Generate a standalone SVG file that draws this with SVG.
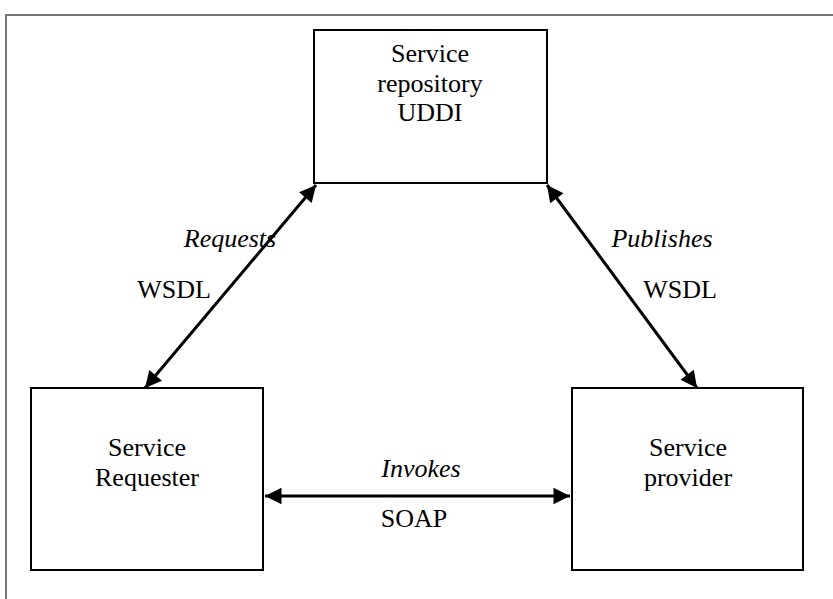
<svg xmlns="http://www.w3.org/2000/svg" width="833" height="599" viewBox="0 0 833 599">
  <style>
    .frame { fill: none; stroke: #777; stroke-width: 2; }
    .box { fill: #fff; stroke: #000; stroke-width: 2; }
    .label { font-family: "Liberation Serif", "Times New Roman", serif; font-size: 26px; fill: #000; text-anchor: middle; }
    .it { font-style: italic; }
    .conn { stroke: #000; stroke-width: 3; fill: none; marker-start: url(#head); marker-end: url(#head); }
  </style>
  <defs>
    <marker id="head" viewBox="0 0 10 10" refX="10" refY="5" markerWidth="6.5" markerHeight="5.5" orient="auto-start-reverse" markerUnits="strokeWidth">
      <path d="M0,0 L10,5 L0,10 Z" fill="#000"/>
    </marker>
  </defs>
  <rect width="833" height="599" fill="#fff"/>
  <!-- outer page frame (top and left edges) -->
  <path class="frame" d="M6,599 V15 H833"/>

  <g id="repository">
    <rect class="box" x="314" y="30" width="233" height="153"/>
    <text class="label" x="430" y="62">Service</text>
    <text class="label" x="430" y="92">repository</text>
    <text class="label" x="430" y="121">UDDI</text>
  </g>

  <g id="requester">
    <rect class="box" x="31" y="388" width="232" height="182"/>
    <text class="label" x="147" y="456">Service</text>
    <text class="label" x="147" y="486">Requester</text>
  </g>

  <g id="provider">
    <rect class="box" x="572" y="388" width="231" height="182"/>
    <text class="label" x="688" y="456">Service</text>
    <text class="label" x="688" y="486">provider</text>
  </g>

  <g id="connectors">
    <line class="conn" x1="145" y1="388" x2="316" y2="185"/>
    <line class="conn" x1="547" y1="185" x2="697" y2="388"/>
    <line class="conn" x1="265" y1="496" x2="570" y2="496"/>
    <text class="label it" x="230" y="247">Requests</text>
    <text class="label" x="174" y="298">WSDL</text>
    <text class="label it" x="662" y="247">Publishes</text>
    <text class="label" x="680" y="298">WSDL</text>
    <text class="label it" x="421" y="477">Invokes</text>
    <text class="label" x="414" y="527">SOAP</text>
  </g>
</svg>
